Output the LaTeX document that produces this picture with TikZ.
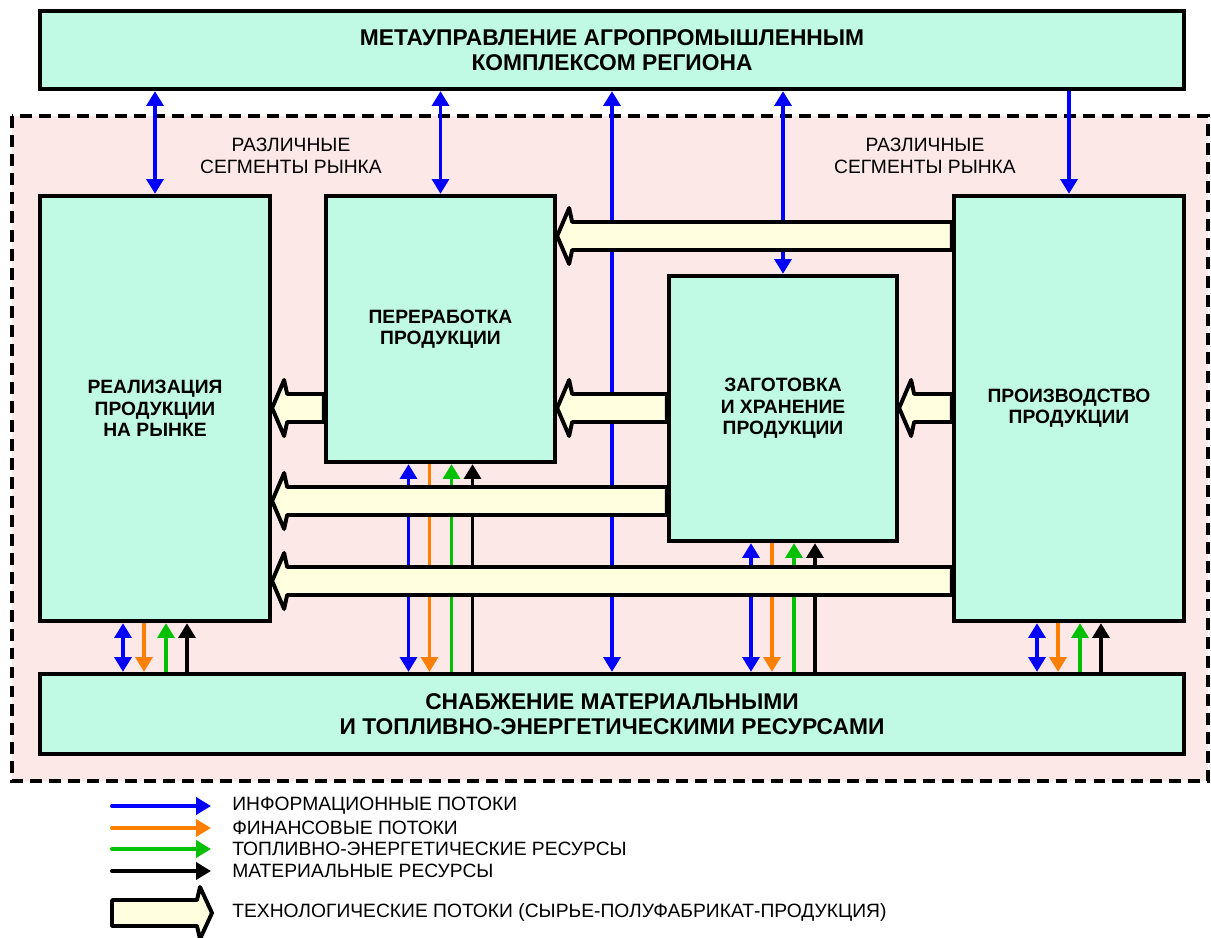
\documentclass[tikz,border=0pt]{standalone}
\usepackage{fontspec}
\setmainfont{Liberation Sans}
\usetikzlibrary{arrows.meta, positioning, calc}

\definecolor{boxfill}{RGB}{192,250,228}
\definecolor{zonefill}{RGB}{253,232,232}
\definecolor{techfill}{RGB}{255,255,224}
\definecolor{infoblue}{RGB}{0,0,255}
\definecolor{finorange}{RGB}{255,128,0}
\definecolor{fuelgreen}{RGB}{0,192,0}

\begin{document}
\begin{tikzpicture}[
    x=0.025cm, y=-0.025cm,
    >={Triangle[length=0.37cm, width=0.42cm]},
    block/.style={draw, line width=3pt, fill=boxfill, inner sep=0pt,
                  font=\fontsize{13.7}{15.2}\selectfont\bfseries, align=center},
    info/.style={draw=infoblue, line width=2.8pt},
    fin/.style={draw=finorange, line width=2.8pt},
    fuel/.style={draw=fuelgreen, line width=2.8pt},
    matl/.style={draw=black, line width=2.8pt},
    tech/.style={draw, fill=techfill, line width=2.8pt, line join=round},
    note/.style={font=\fontsize{13.7}{15.5}\selectfont, align=center},
    legend/.style={anchor=west, inner sep=0pt, font=\fontsize{13.7}{15}\selectfont}
  ]
  \useasboundingbox (0,0) rectangle (1211,938);

  % region of the complex
  \draw[fill=zonefill, line width=2.8pt, dash pattern=on 8.5pt off 5pt]
    (12,116) rectangle (1208,781);

  \node[block, minimum width=28.6cm, minimum height=1.95cm,
        font=\fontsize{16.2}{17.5}\selectfont\bfseries] (meta) at (612,50)
    {МЕТАУПРАВЛЕНИЕ АГРОПРОМЫШЛЕННЫМ\\КОМПЛЕКСОМ РЕГИОНА};
  \node[block, minimum width=5.75cm, minimum height=10.625cm] (realiz) at (155,408.5)
    {РЕАЛИЗАЦИЯ\\ПРОДУКЦИИ\\НА РЫНКЕ};
  \node[block, minimum width=5.725cm, minimum height=6.65cm] (proc) at (440.5,329)
    {ПЕРЕРАБОТКА\\ПРОДУКЦИИ};
  \node[block, minimum width=5.7cm, minimum height=6.625cm] (store) at (783,408.5)
    {ЗАГОТОВКА\\И ХРАНЕНИЕ\\ПРОДУКЦИИ};
  \node[block, minimum width=5.75cm, minimum height=10.625cm] (prodn) at (1069,408.5)
    {ПРОИЗВОДСТВО\\ПРОДУКЦИИ};
  \node[block, minimum width=28.6cm, minimum height=2cm,
        font=\fontsize{16.2}{18}\selectfont\bfseries] (supply) at (612,714)
    {СНАБЖЕНИЕ МАТЕРИАЛЬНЫМИ\\И ТОПЛИВНО-ЭНЕРГЕТИЧЕСКИМИ РЕСУРСАМИ};

  \node[note] (segL) at (291,156) {РАЗЛИЧНЫЕ\\СЕГМЕНТЫ РЫНКА};
  \node[note] (segR) at (925,156) {РАЗЛИЧНЫЕ\\СЕГМЕНТЫ РЫНКА};

  % information flows from the top
  \draw[info, <->] (meta.south -| realiz.north) -- (realiz.north);
  \draw[info, <->] (meta.south -| proc.north) -- (proc.north);
  \draw[info, <->] (meta.south) -- (supply.north);
  \draw[info, <->] (meta.south -| store.north) -- (store.north);
  \draw[info, ->] (meta.south -| prodn.north) -- (prodn.north);

  % flows to and from supply
  \draw[info, <->] ([xshift=-0.8cm]realiz.south) -- ([xshift=-0.8cm]realiz.south |- supply.north);
  \draw[fin, ->] ([xshift=-0.275cm]realiz.south) -- ([xshift=-0.275cm]realiz.south |- supply.north);
  \draw[fuel, ->] ([xshift=0.275cm]realiz.south |- supply.north) -- ([xshift=0.275cm]realiz.south);
  \draw[matl, ->] ([xshift=0.8cm]realiz.south |- supply.north) -- ([xshift=0.8cm]realiz.south);

  \draw[info, <->] ([xshift=-0.8cm]proc.south) -- ([xshift=-0.8cm]proc.south |- supply.north);
  \draw[fin, ->] ([xshift=-0.275cm]proc.south) -- ([xshift=-0.275cm]proc.south |- supply.north);
  \draw[fuel, ->] ([xshift=0.275cm]proc.south |- supply.north) -- ([xshift=0.275cm]proc.south);
  \draw[matl, ->] ([xshift=0.8cm]proc.south |- supply.north) -- ([xshift=0.8cm]proc.south);

  \draw[info, <->] ([xshift=-0.8cm]store.south) -- ([xshift=-0.8cm]store.south |- supply.north);
  \draw[fin, ->] ([xshift=-0.275cm]store.south) -- ([xshift=-0.275cm]store.south |- supply.north);
  \draw[fuel, ->] ([xshift=0.275cm]store.south |- supply.north) -- ([xshift=0.275cm]store.south);
  \draw[matl, ->] ([xshift=0.8cm]store.south |- supply.north) -- ([xshift=0.8cm]store.south);

  \draw[info, <->] ([xshift=-0.8cm]prodn.south) -- ([xshift=-0.8cm]prodn.south |- supply.north);
  \draw[fin, ->] ([xshift=-0.275cm]prodn.south) -- ([xshift=-0.275cm]prodn.south |- supply.north);
  \draw[fuel, ->] ([xshift=0.275cm]prodn.south |- supply.north) -- ([xshift=0.275cm]prodn.south);
  \draw[matl, ->] ([xshift=0.8cm]prodn.south |- supply.north) -- ([xshift=0.8cm]prodn.south);

  % technological flows
  \filldraw[tech] (proc.east |- 0,236) -- ++(12,-28) -- ++(3,14) -- (prodn.west |- 0,222)
    -- (prodn.west |- 0,250) -- ($(proc.east |- 0,250)+(15,0)$) -- ++(-3,14) -- cycle;
  \filldraw[tech] (realiz.east |- 0,408) -- ++(12,-28) -- ++(3,14) -- (proc.west |- 0,394)
    -- (proc.west |- 0,422) -- ($(realiz.east |- 0,422)+(15,0)$) -- ++(-3,14) -- cycle;
  \filldraw[tech] (proc.east |- 0,408) -- ++(12,-28) -- ++(3,14) -- (store.west |- 0,394)
    -- (store.west |- 0,422) -- ($(proc.east |- 0,422)+(15,0)$) -- ++(-3,14) -- cycle;
  \filldraw[tech] (store.east |- 0,408) -- ++(12,-28) -- ++(3,14) -- (prodn.west |- 0,394)
    -- (prodn.west |- 0,422) -- ($(store.east |- 0,422)+(15,0)$) -- ++(-3,14) -- cycle;
  \filldraw[tech] (realiz.east |- 0,501) -- ++(12,-28) -- ++(3,14) -- (store.west |- 0,487)
    -- (store.west |- 0,515) -- ($(realiz.east |- 0,515)+(15,0)$) -- ++(-3,14) -- cycle;
  \filldraw[tech] (realiz.east |- 0,581) -- ++(12,-28) -- ++(3,14) -- (prodn.west |- 0,567)
    -- (prodn.west |- 0,595) -- ($(realiz.east |- 0,595)+(15,0)$) -- ++(-3,14) -- cycle;

  % legend
  \node[legend] (lgInfo) at (232,806) {ИНФОРМАЦИОННЫЕ ПОТОКИ};
  \node[legend] (lgFin) at (232,828) {ФИНАНСОВЫЕ ПОТОКИ};
  \node[legend] (lgFuel) at (232,849) {ТОПЛИВНО-ЭНЕРГЕТИЧЕСКИЕ РЕСУРСЫ};
  \node[legend] (lgMatl) at (232,871) {МАТЕРИАЛЬНЫЕ РЕСУРСЫ};
  \node[legend] (lgTech) at (232,913) {ТЕХНОЛОГИЧЕСКИЕ ПОТОКИ (СЫРЬЕ-ПОЛУФАБРИКАТ-ПРОДУКЦИЯ)};

  \draw[info, ->, line cap=round] ([xshift=-3cm]lgInfo.west) -- ([xshift=-0.525cm]lgInfo.west);
  \draw[fin, ->, line cap=round] ([xshift=-3cm]lgFin.west) -- ([xshift=-0.525cm]lgFin.west);
  \draw[fuel, ->, line cap=round] ([xshift=-3cm]lgFuel.west) -- ([xshift=-0.525cm]lgFuel.west);
  \draw[matl, ->, line cap=round] ([xshift=-3cm]lgMatl.west) -- ([xshift=-0.525cm]lgMatl.west);
  \filldraw[tech] ([xshift=-0.5cm]lgTech.west) -- ++(-12,-26) -- ++(-3,13) -- ([xshift=-3cm]lgTech.west |- 0,900)
    -- ([xshift=-3cm]lgTech.west |- 0,926) -- ($([xshift=-0.5cm]lgTech.west |- 0,926)+(-15,0)$) -- ++(3,13) -- cycle;
\end{tikzpicture}
\end{document}
